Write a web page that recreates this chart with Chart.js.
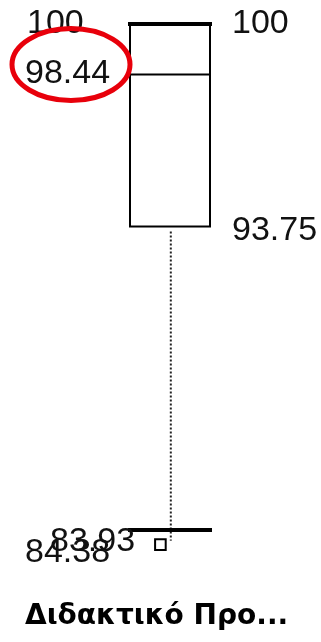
<!DOCTYPE html>
<html>
<head>
<meta charset="utf-8">
<script src="https://cdn.jsdelivr.net/npm/chart.js@4/dist/chart.umd.min.js"></script>
<style>
  html, body { margin: 0; padding: 0; background: #fff; }
  #wrap { width: 321px; height: 642px; position: relative; }
</style>
</head>
<body>
<div id="wrap"><canvas id="boxChart"></canvas></div>
<script>
// datos del boxplot
const categories = ['Διδακτικό Προ...'];
const maxValues = [100];
const q3Values = [100];
const medianValues = [98.44];
const q1Values = [93.75];
const minValues = [84.38];
const outlierValues = [83.93];

// etiquetas de valores: texto y valor donde se ancla
const leftLabels = ['100', '98.44', '83.93', '84.38'];
const leftLabelValues = [100, 98.44, 84.38, 83.93];
const rightLabels = ['100', '93.75'];
const rightLabelValues = [100, 93.75];

const boxPlugin = {
    id: 'boxPlugin',
    afterDatasetsDraw(chart) {
        const ctx = chart.ctx;
        const x = chart.scales.x;
        const y = chart.scales.y;
        const i = 0;
        const left = x.getPixelForValue(-0.5);
        const right = x.getPixelForValue(0.5);
        const mid = x.getPixelForValue(0.01);
        const capL = x.getPixelForValue(-0.525);
        const capR = x.getPixelForValue(0.525);

        ctx.save();
        // caja
        const top = y.getPixelForValue(q3Values[i]);
        const bottom = y.getPixelForValue(q1Values[i]);
        ctx.strokeStyle = '#000';
        ctx.lineWidth = 2;
        ctx.strokeRect(left, top, right - left, bottom - top);

        // mediana
        const med = y.getPixelForValue(medianValues[i]);
        ctx.beginPath();
        ctx.moveTo(left, med);
        ctx.lineTo(right, med);
        ctx.stroke();

        // bigote punteado
        ctx.setLineDash([2, 2]);
        ctx.lineWidth = 2;
        ctx.strokeStyle = '#222';
        ctx.beginPath();
        ctx.moveTo(mid, bottom + 5);
        ctx.lineTo(mid, y.getPixelForValue(outlierValues[i]) - 4);
        ctx.stroke();
        ctx.setLineDash([]);

        // max y min
        ctx.strokeStyle = '#000';
        ctx.lineWidth = 4;
        [maxValues[i], minValues[i]].forEach(function(v) {
            const py = y.getPixelForValue(v);
            ctx.beginPath();
            ctx.moveTo(capL, py);
            ctx.lineTo(capR, py);
            ctx.stroke();
        });

        // textos
        ctx.fillStyle = '#111';
        ctx.font = '34px "Liberation Sans", Arial, sans-serif';
        ctx.textBaseline = 'middle';
        ctx.textAlign = 'left';
        const leftX = [27, 25, 50, 25];
        const leftDy = [0, -1, 12, 8];
        leftLabels.forEach(function(t, k) {
            ctx.fillText(t, leftX[k], y.getPixelForValue(leftLabelValues[k]) + leftDy[k]);
        });
        const rightDy = [0, 4];
        rightLabels.forEach(function(t, k) {
            ctx.fillText(t, 232, y.getPixelForValue(rightLabelValues[k]) + rightDy[k]);
        });

        // categoria
        ctx.font = 'bold 28px "DejaVu Sans", Verdana, sans-serif';
        ctx.fillStyle = '#000';
        ctx.fillText(categories[i], 25, 617);

        // elipse roja sobre la mediana
        ctx.strokeStyle = '#e8000b';
        ctx.lineWidth = 5;
        ctx.beginPath();
        ctx.ellipse(71, med - 10, 59, 36, 0, 0, Math.PI * 2);
        ctx.stroke();
        ctx.restore();
    }
};

const ctx = document.getElementById('boxChart').getContext('2d');
const boxChart = new Chart(ctx, {
    type: 'scatter',
    data: {
        datasets: [{
            label: 'outliers',
            data: outlierValues.map(function(v) { return { x: -0.12, y: v }; }),
            pointStyle: 'rect',
            pointRadius: 7.5,
            pointHoverRadius: 7.5,
            backgroundColor: '#fff',
            borderColor: '#000',
            borderWidth: 2
        }]
    },
    options: {
        responsive: true,
        maintainAspectRatio: false,
        animation: false,
        events: [],
        layout: { padding: 0, autoPadding: false },
        scales: {
            x: { type: 'linear', display: false, min: -2.125, max: 1.8875 },
            y: { type: 'linear', display: false, min: 80.926, max: 100.741 }
        },
        plugins: {
            legend: { display: false },
            tooltip: { enabled: false }
        }
    },
    plugins: [boxPlugin]
});
</script>
</body>
</html>
